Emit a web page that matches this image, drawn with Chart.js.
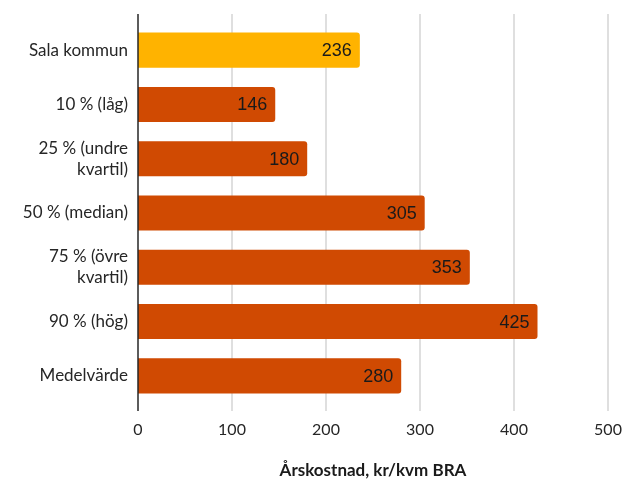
<!DOCTYPE html>
<html>
<head>
<meta charset="utf-8">
<script src="https://cdn.jsdelivr.net/npm/chart.js@4.4.1/dist/chart.umd.min.js"></script>
<style>
  html, body { margin: 0; padding: 0; background: #ffffff; }
  #wrap { width: 625px; height: 481px; position: relative; }
</style>
</head>
<body>
<div id="wrap"><canvas id="chart" width="625" height="481"></canvas></div>
<script>
// Årskostnad per kvadratmeter BRA
const categories = [
  'Sala kommun',
  '10 % (låg)',
  ['25 % (undre', 'kvartil)'],
  '50 % (median)',
  ['75 % (övre', 'kvartil)'],
  '90 % (hög)',
  'Medelvärde'
];
const values = [236, 146, 180, 305, 353, 425, 280];
const xTicks = [0, 100, 200, 300, 400, 500];
const axisTitle = 'Årskostnad, kr/kvm BRA';

const barColors = values.map((v, i) => i === 0 ? '#FFB300' : '#D04A02');

// Vertical grid lines that run a little past the bar area, plus the value axis line
const gridPlugin = {
  id: 'gridLines',
  beforeDatasetsDraw(chart) {
    const { ctx, chartArea, scales } = chart;
    const x = scales.x;
    const top = chartArea.top - 9;
    const bottom = chartArea.bottom + 8;
    ctx.save();
    ctx.strokeStyle = '#d4d4d4';
    ctx.lineWidth = 1.5;
    xTicks.slice(1).forEach(t => {
      const px = Math.round(x.getPixelForValue(t));
      ctx.beginPath();
      ctx.moveTo(px, top);
      ctx.lineTo(px, bottom);
      ctx.stroke();
    });
    ctx.restore();
  },
  afterDatasetsDraw(chart) {
    const { ctx, chartArea, scales } = chart;
    const px = scales.x.getPixelForValue(0);
    ctx.save();
    ctx.strokeStyle = '#262626';
    ctx.lineWidth = 1.5;
    ctx.beginPath();
    ctx.moveTo(px, chartArea.top - 9);
    ctx.lineTo(px, chartArea.bottom + 8);
    ctx.stroke();
    ctx.restore();
  }
};

// Value labels inside the end of each bar
const valueLabels = {
  id: 'valueLabels',
  afterDatasetsDraw(chart) {
    const { ctx } = chart;
    const meta = chart.getDatasetMeta(0);
    ctx.save();
    ctx.font = '18px "Liberation Sans", Arial, sans-serif';
    ctx.fillStyle = '#1a1a1a';
    ctx.textAlign = 'right';
    ctx.textBaseline = 'middle';
    meta.data.forEach((bar, i) => {
      ctx.fillText(String(values[i]), bar.x - 8, bar.y + 1);
    });
    ctx.restore();
  }
};

new Chart(document.getElementById('chart'), {
  type: 'bar',
  data: {
    labels: categories,
    datasets: [{
      data: values,
      backgroundColor: barColors,
      borderRadius: 3,
      borderSkipped: 'start',
      categoryPercentage: 1,
      barPercentage: 0.646
    }]
  },
  options: {
    indexAxis: 'y',
    responsive: false,
    animation: false,
    devicePixelRatio: 1,
    layout: { padding: { top: 23, right: 17, left: 0, bottom: 0 } },
    plugins: {
      legend: { display: false },
      tooltip: { enabled: false }
    },
    scales: {
      x: {
        type: 'linear',
        min: 0,
        max: 500,
        afterBuildTicks(scale) {
          scale.ticks = xTicks.map(v => ({ value: v }));
        },
        afterFit(scale) { scale.height = 78; },
        grid: { display: false, drawTicks: true, tickLength: 17 },
        border: { display: false },
        ticks: {
          padding: 0,
          color: '#262626',
          font: { family: 'Lato', size: 16 }
        },
        title: {
          display: true,
          text: axisTitle,
          color: '#1a1a1a',
          font: { family: 'Lato', size: 17, weight: 'bold', lineHeight: 1.2 },
          padding: { top: 0, bottom: 0 }
        }
      },
      y: {
        afterFit(scale) { scale.width = 138; },
        grid: { display: false, drawTicks: false, tickLength: 0 },
        border: { display: false },
        ticks: {
          padding: 10,
          color: '#262626',
          font: { family: 'Lato', size: 17, lineHeight: 1.25 }
        }
      }
    }
  },
  plugins: [gridPlugin, valueLabels]
});
</script>
</body>
</html>
